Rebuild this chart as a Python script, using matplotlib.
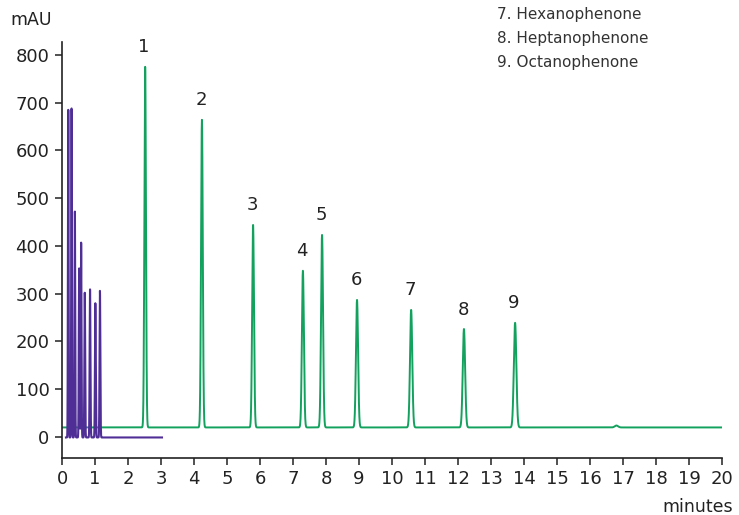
import numpy as np
import matplotlib
matplotlib.use('Agg')
import matplotlib.pyplot as plt

# green trace: peaks 1-9 plus small bump near 16.8 min
green_times = [2.52, 4.24, 5.79, 7.30, 7.88, 8.94, 10.58, 12.18, 13.73, 16.80]
green_heights = [755, 644, 424, 328, 403, 267, 246, 206, 219, 4]
green_widths = [0.024, 0.026, 0.028, 0.030, 0.030, 0.032, 0.034, 0.036, 0.038, 0.05]
green_base = 20

# purple trace: fast separation, same compounds
purple_times = [0.19, 0.29, 0.39, 0.52, 0.58, 0.69, 0.85, 1.01, 1.15]
purple_heights = [686, 689, 473, 354, 408, 303, 310, 281, 307]
purple_widths = [0.010, 0.010, 0.010, 0.011, 0.011, 0.011, 0.012, 0.012, 0.012]
purple_base = -1

peak_labels = ['1', '2', '3', '4', '5', '6', '7', '8', '9']
legend_lines = ['7. Hexanophenone', '8. Heptanophenone', '9. Octanophenone']

green_color = '#13a15e'
purple_color = '#4f2f96'


def trace(t, times, heights, widths, base):
    y = np.full_like(t, float(base))
    for tr, h, w in zip(times, heights, widths):
        y += h * np.exp(-0.5 * ((t - tr) / w) ** 2)
    return y


fig = plt.figure(figsize=(7.39, 5.15), dpi=100)
ax = fig.add_axes([62/739, 57/515, 660/739, 416/515])

tg = np.linspace(0, 20, 20001)
ax.plot(tg, trace(tg, green_times, green_heights, green_widths, green_base),
        color=green_color, lw=1.4)
tp = np.linspace(0.12, 3.03, 6001)
ax.plot(tp, trace(tp, purple_times, purple_heights, purple_widths, purple_base),
        color=purple_color, lw=1.5)

for lab, tr, h in zip(peak_labels, green_times, green_heights):
    ax.text(tr - 0.03, h + green_base + 22, lab, ha='center', va='bottom', fontsize=13, color='#222222')

ax.set_xlim(0, 20)
ax.set_ylim(-44, 827)
ax.set_xticks(range(0, 21))
ax.set_yticks(range(0, 801, 100))
ax.spines['top'].set_visible(False)
ax.spines['right'].set_visible(False)
for s in ['left', 'bottom']:
    ax.spines[s].set_color('#222222')
    ax.spines[s].set_linewidth(1.2)
ax.tick_params(direction='out', length=5, width=1.1, colors='#222222', labelsize=13, pad=4)

fig.text(10/739, 1 - 20/515, 'mAU', fontsize=12.5, color='#222222', va='center', ha='left')
fig.text(733/739, 1 - 507/515, 'minutes', fontsize=12.5, color='#222222', va='center', ha='right')
for i, s in enumerate(legend_lines):
    fig.text(497/739, 1 - (14 + 24*i)/515, s, fontsize=11, color='#333333', va='center', ha='left')

fig.savefig('out.png', dpi=100)
